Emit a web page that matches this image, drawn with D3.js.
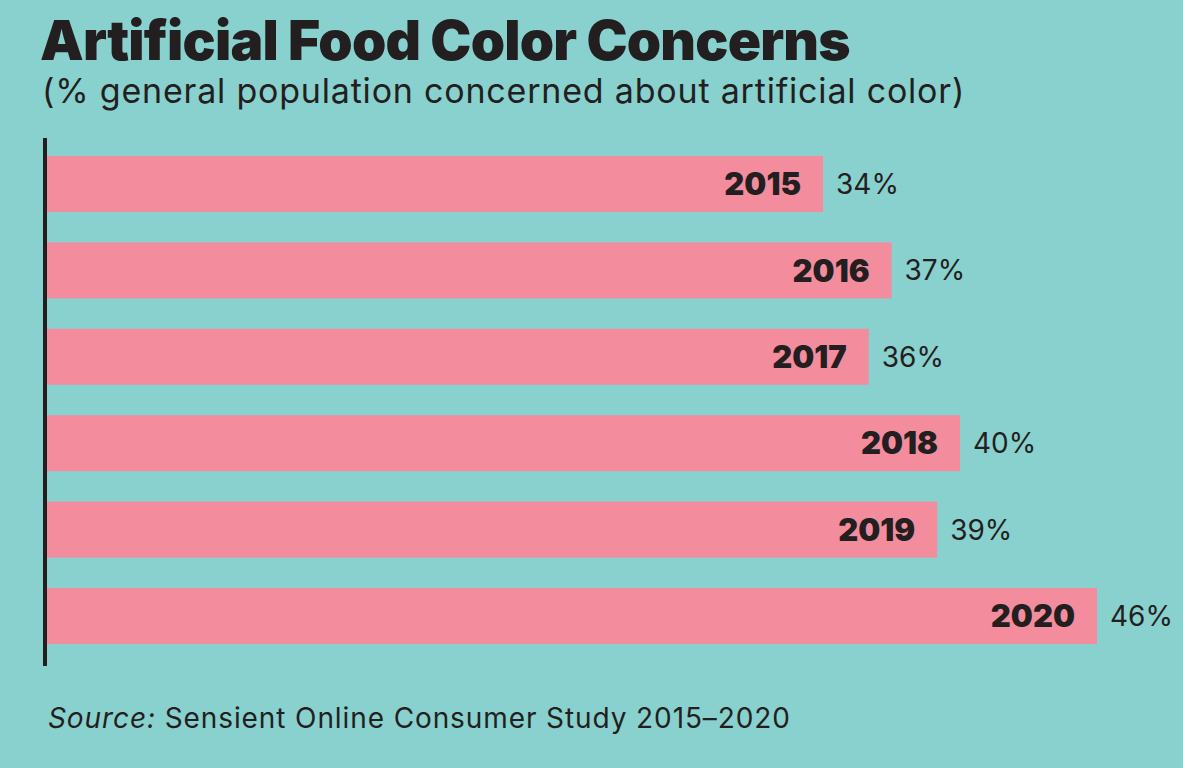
<!DOCTYPE html>
<html lang="en">
<head>
  <meta charset="UTF-8" />
  <title>Artificial Food Color Concerns</title>
  <script src="https://d3js.org/d3.v7.min.js"></script>
  <style>
    body {
      margin: 0;
      background: #89d1ce;
    }
    text {
      fill: #231f20;
      font-family: Inter, sans-serif;
    }
    .title {
      font-weight: 900;
      font-size: 55px;
      letter-spacing: -0.8px;
    }
    .subtitle {
      font-weight: 400;
      font-size: 34px;
      letter-spacing: 0.8px;
    }
    .year {
      font-weight: 900;
      font-size: 31px;
    }
    .value {
      font-weight: 400;
      font-size: 28px;
    }
    .source {
      font-size: 28px;
      letter-spacing: 0.9px;
    }
  </style>
</head>
<body>
  <svg width="1183" height="768"></svg>

  <script>
    const years = ["2015", "2016", "2017", "2018", "2019", "2020"];
    const values = [34, 37, 36, 40, 39, 46];

    const svg = d3.select("svg");
    const data = years.map((year, i) => ({ year, value: values[i] }));

    const x = d3.scaleLinear().domain([0, 46]).range([47, 1097]);
    const y = d3.scaleBand().domain(years).range([156, 644]).paddingInner(0.352).paddingOuter(0);

    svg.append("rect")
      .attr("width", 1183).attr("height", 768)
      .attr("fill", "#89d1ce");

    svg.append("text")
      .attr("class", "title")
      .attr("x", 40).attr("y", 60)
      .text("Artificial Food Color Concerns");

    svg.append("text")
      .attr("class", "subtitle")
      .attr("x", 42).attr("y", 103)
      .text("(% general population concerned about artificial color)");

    svg.selectAll("rect.bar")
      .data(data)
      .join("rect")
      .attr("class", "bar")
      .attr("x", x(0))
      .attr("y", d => y(d.year))
      .attr("width", d => x(d.value) - x(0))
      .attr("height", y.bandwidth())
      .attr("fill", "#f38c9d");

    // vertical axis line
    svg.append("line")
      .attr("x1", 45).attr("x2", 45)
      .attr("y1", y.range()[0] - 18)
      .attr("y2", y.range()[1] + 22)
      .attr("stroke", "#231f20")
      .attr("stroke-width", 4);

    svg.selectAll("text.year")
      .data(data)
      .join("text")
      .attr("class", "year")
      .attr("x", d => x(d.value) - 22)
      .attr("y", d => y(d.year) + y.bandwidth() / 2)
      .attr("dy", "0.36em")
      .attr("text-anchor", "end")
      .text(d => d.year);

    svg.selectAll("text.value")
      .data(data)
      .join("text")
      .attr("class", "value")
      .attr("x", d => x(d.value) + 13)
      .attr("y", d => y(d.year) + y.bandwidth() / 2)
      .attr("dy", "0.36em")
      .text(d => d.value + "%");

    const source = svg.append("text")
      .attr("class", "source")
      .attr("x", 48).attr("y", 728);
    source.append("tspan").attr("font-style", "italic").text("Source:");
    source.append("tspan").text(" Sensient Online Consumer Study 2015\u20132020");
  </script>
</body>
</html>
